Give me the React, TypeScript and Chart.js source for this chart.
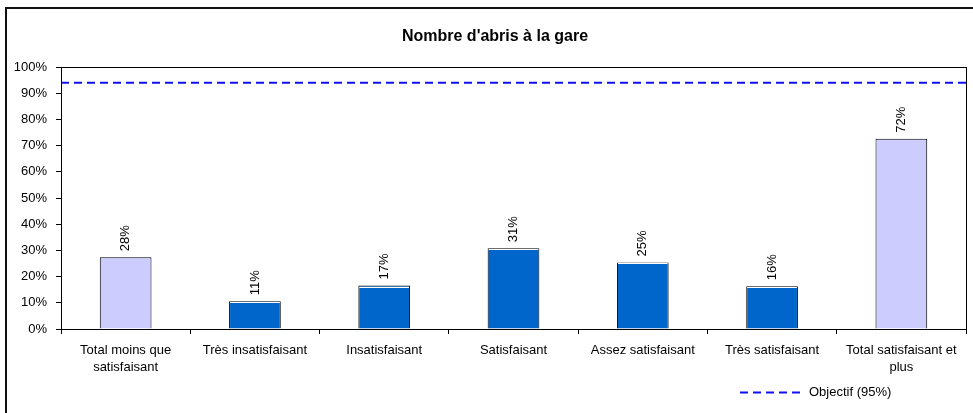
import React, { useEffect, useRef } from "react";
import { Chart, registerables } from "chart.js";

Chart.register(...registerables);

const categories: (string | string[])[] = [
  ["Total moins que", "satisfaisant"],
  "Très insatisfaisant",
  "Insatisfaisant",
  "Satisfaisant",
  "Assez satisfaisant",
  "Très satisfaisant",
  ["Total satisfaisant et", "plus"],
];
const values = [27.4, 10.6, 16.6, 30.8, 25.4, 16.3, 72.6];
const valueLabels = ["28%", "11%", "17%", "31%", "25%", "16%", "72%"];
const barColors = ["#CCCCFF", "#0066CC", "#0066CC", "#0066CC", "#0066CC", "#0066CC", "#CCCCFF"];
const objective = 94;
const objectiveLabel = "Objectif (95%)";
const yTicks = [0, 10, 20, 30, 40, 50, 60, 70, 80, 90, 100];
const title = "Nombre d'abris à la gare";

const FONT = "'Liberation Sans', Arial, sans-serif";

export default function App() {
  const ref = useRef<HTMLCanvasElement | null>(null);
  useEffect(() => {
    const canvas = ref.current!;
    const decor = {
      id: "decor",
      beforeDraw(chart: any) {
        const ctx = chart.ctx;
        ctx.save();
        ctx.fillStyle = "#fff";
        ctx.fillRect(0, 0, chart.width, chart.height);
        ctx.restore();
      },
      afterDatasetsDraw(chart: any) {
        const ctx = chart.ctx;
        const ca = chart.chartArea;
        const meta = chart.getDatasetMeta(0);
        ctx.save();
        meta.data.forEach((bar: any, i: number) => {
          if (barColors[i] !== "#0066CC") return;
          const half = bar.width / 2;
          ctx.strokeStyle = "#fff";
          ctx.lineWidth = 1;
          ctx.beginPath();
          ctx.moveTo(bar.x - half + 1, Math.round(bar.y) + 1.5);
          ctx.lineTo(bar.x + half - 1, Math.round(bar.y) + 1.5);
          ctx.stroke();
        });
        ctx.fillStyle = "#000";
        ctx.font = `13px ${FONT}`;
        ctx.textAlign = "left";
        ctx.textBaseline = "middle";
        meta.data.forEach((bar: any, i: number) => {
          ctx.save();
          ctx.translate(bar.x, bar.y - 6);
          ctx.rotate(-Math.PI / 2);
          ctx.fillText(valueLabels[i], 0, 0);
          ctx.restore();
        });
        ctx.strokeStyle = "#000";
        ctx.lineWidth = 1;
        ctx.strokeRect(Math.round(ca.left) + 0.5, Math.round(ca.top) + 0.5, Math.round(ca.right - ca.left), Math.round(ca.bottom - ca.top));
        ctx.lineWidth = 2;
        ctx.strokeStyle = "#111";
        ctx.strokeRect(6, 8, 1200, 1000);
        ctx.font = `bold 16px ${FONT}`;
        ctx.textAlign = "center";
        ctx.textBaseline = "alphabetic";
        ctx.fillStyle = "#000";
        ctx.fillText(title, 495, 41);
        const ly = 392.5;
        ctx.strokeStyle = "#1010F0";
        ctx.lineWidth = 2;
        ctx.setLineDash([8, 5]);
        ctx.beginPath();
        ctx.moveTo(740, ly);
        ctx.lineTo(802, ly);
        ctx.stroke();
        ctx.setLineDash([]);
        ctx.font = `13px ${FONT}`;
        ctx.textAlign = "left";
        ctx.textBaseline = "middle";
        ctx.fillText(objectiveLabel, 809, ly);
        ctx.restore();
      },
    };
    const chart = new Chart(canvas, {
      type: "bar",
      data: {
        labels: categories as any,
        datasets: [
          {
            type: "bar",
            data: values,
            backgroundColor: barColors,
            borderColor: "#000",
            borderWidth: 1,
            barPercentage: 0.4,
            categoryPercentage: 1,
            grouped: false,
            order: 2,
          } as any,
          {
            type: "line",
            data: [
              { x: 0, y: objective },
              { x: 1, y: objective },
            ],
            xAxisID: "x2",
            borderColor: "#1010F0",
            borderWidth: 2,
            borderDash: [8, 5],
            pointRadius: 0,
            fill: false,
            order: 1,
          } as any,
        ],
      },
      options: {
        responsive: false,
        animation: false,
        devicePixelRatio: 1,
        layout: { padding: { left: 0, right: 7, top: 67, bottom: 0 } },
        plugins: { legend: { display: false }, title: { display: false }, tooltip: { enabled: false } },
        scales: {
          x: {
            offset: true,
            grid: { offset: true, drawOnChartArea: false, drawTicks: true, tickLength: 5, color: "#000" },
            border: { display: true, color: "#000" },
            ticks: {
              color: "#000",
              font: { family: FONT, size: 13, lineHeight: 1.3 },
              maxRotation: 0,
              minRotation: 0,
              autoSkip: false,
              padding: 8,
            },
            afterFit: (s: any) => {
              s.height = 84;
            },
          },
          x2: {
            type: "linear",
            display: false,
            offset: false,
            grid: { offset: false },
            min: 0,
            max: 1,
          },
          y: {
            min: 0,
            max: 100,
            afterBuildTicks: (s: any) => {
              s.ticks = yTicks.map((v) => ({ value: v }));
            },
            grid: { drawOnChartArea: false, drawTicks: true, tickLength: 5, color: "#000" },
            border: { display: true, color: "#000" },
            ticks: {
              color: "#000",
              font: { family: FONT, size: 13 },
              padding: 9,
              callback: (v: any) => `${v}%`,
            },
            afterFit: (s: any) => {
              s.width = 61;
            },
          },
        },
      } as any,
      plugins: [decor],
    });
    return () => chart.destroy();
  }, []);
  return (
    <div style={{ position: "fixed", left: 0, top: 0, width: 973, height: 413 }}>
      <canvas ref={ref} width={973} height={413} style={{ display: "block" }} />
    </div>
  );
}
